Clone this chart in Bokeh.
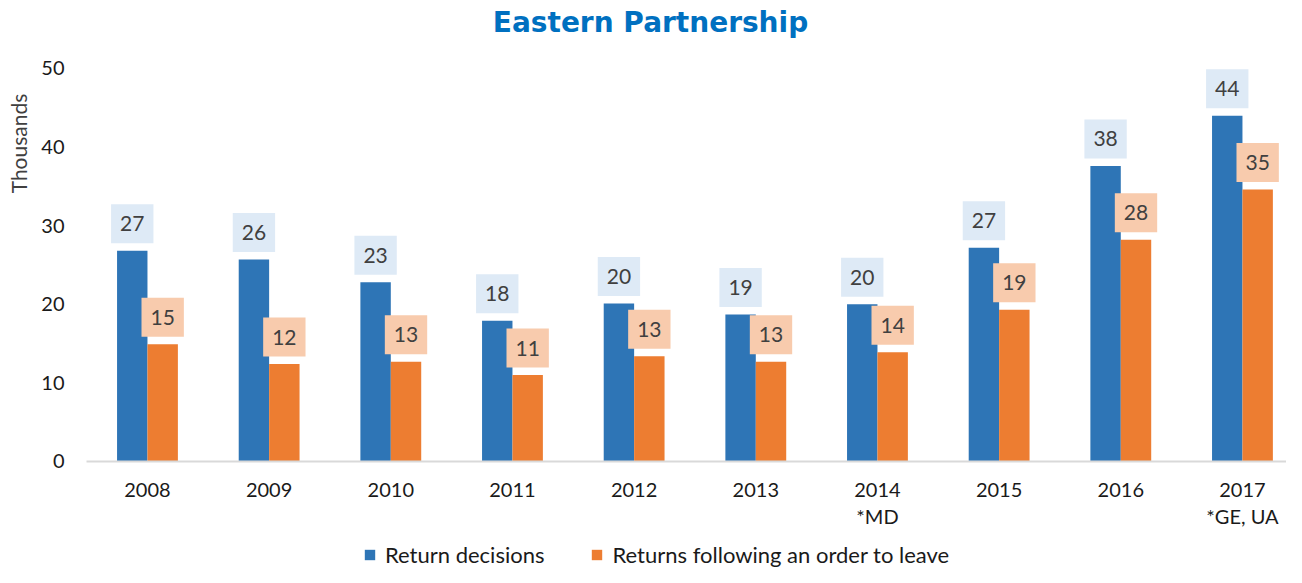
import numpy as np
from bokeh.plotting import figure
from bokeh.models import ColumnDataSource, Range1d, FixedTicker, Legend, LegendItem, Label
from bokeh.core.properties import value
from bokeh.embed import file_html
from bokeh.resources import INLINE

# ---- data ----
years = ["2008", "2009", "2010", "2011", "2012", "2013", "2014", "2015", "2016", "2017"]
tick_labels = ["2008", "2009", "2010", "2011", "2012", "2013", "2014\n*MD", "2015", "2016", "2017\n*GE, UA"]
return_decisions = [26.8, 25.7, 22.8, 17.9, 20.1, 18.7, 20.0, 27.2, 37.6, 44.0]
returns_following = [14.9, 12.4, 12.7, 11.0, 13.4, 12.7, 13.9, 19.3, 28.2, 34.6]
series_names = ["Return decisions", "Returns following an order to leave"]
y_ticks = [0, 10, 20, 30, 40, 50]

BLUE = "#2E75B6"
ORANGE = "#ED7D31"
BLUE_BOX = "#DEEAF6"
ORANGE_BOX = "#F8CBAD"
FONT = "Lato"

idx = np.arange(len(years))
bar_w = 0.25
src_b = ColumnDataSource(dict(x=idx - bar_w / 2, top=return_decisions,
                              lab=[f"{v:.0f}" for v in return_decisions]))
src_o = ColumnDataSource(dict(x=idx + bar_w / 2, top=returns_following,
                              lab=[f"{v:.0f}" for v in returns_following]))

# the frame covers the whole canvas; axes are pinned inside it
X_LEFT = -0.501          # left end of the category area
p = figure(width=1286, height=567, output_backend="svg", toolbar_location=None,
           x_range=Range1d(-1.208, 9.362), y_range=Range1d(-13.49, 58.65),
           min_border=0)
p.outline_line_color = None
p.grid.grid_line_color = None
p.background_fill_color = "white"
p.border_fill_color = "white"

rb = p.vbar(x="x", top="top", width=bar_w, source=src_b, fill_color=BLUE, line_color=None)
ro = p.vbar(x="x", top="top", width=bar_w, source=src_o, fill_color=ORANGE, line_color=None)

for src, box in ((src_b, BLUE_BOX), (src_o, ORANGE_BOX)):
    p.text(x="x", y="top", text="lab", source=src, text_align="center", text_baseline="middle",
           y_offset=-27, text_font=value(FONT), text_font_size="21px", text_color="#404040",
           background_fill_color=box, padding=(9, 12))

# axes
xa = p.xaxis[0]
xa.fixed_location = 0
xa.bounds = (X_LEFT, 9.362)
xa.ticker = FixedTicker(ticks=list(idx))
xa.major_label_overrides = {int(i): t for i, t in zip(idx, tick_labels)}
xa.major_tick_line_color = None
xa.minor_tick_line_color = None
xa.axis_line_color = "#D9D9D9"
xa.axis_line_width = 2
xa.major_label_text_font = FONT
xa.major_label_text_font_size = "20px"
xa.major_label_text_color = "#1A1A1A"
xa.major_label_text_line_height = 1.1
xa.major_label_standoff = 10

ya = p.yaxis[0]
ya.fixed_location = X_LEFT
ya.ticker = FixedTicker(ticks=y_ticks)
ya.axis_line_color = None
ya.major_tick_line_color = None
ya.minor_tick_line_color = None
ya.major_label_text_font = FONT
ya.major_label_text_font_size = "20px"
ya.major_label_text_color = "#1A1A1A"
ya.major_label_standoff = 16

# title and y label (screen units from the frame's bottom-left corner)
p.add_layout(Label(x=650, y=545, x_units="screen", y_units="screen", text="Eastern Partnership",
                   text_font="DejaVu Sans", text_font_style="bold", text_font_size="28px",
                   text_color="#0070C0", text_align="center", text_baseline="middle"))
p.add_layout(Label(x=18, y=424, x_units="screen", y_units="screen", text="Thousands",
                   angle=np.pi / 2, text_font=FONT, text_font_size="21px", text_color="#404040",
                   text_align="center", text_baseline="middle"))

legend = Legend(items=[LegendItem(label=series_names[0], renderers=[rb]),
                       LegendItem(label=series_names[1], renderers=[ro])],
                orientation="horizontal", location=(363, -1),
                label_text_font=FONT, label_text_font_size="22px", label_text_color="#1A1A1A",
                glyph_width=13, glyph_height=13, label_standoff=9, spacing=46,
                label_height=20, padding=0, margin=0, border_line_color=None,
                background_fill_alpha=0)
p.add_layout(legend, "center")

open("out.html", "w").write(file_html(p, INLINE))
